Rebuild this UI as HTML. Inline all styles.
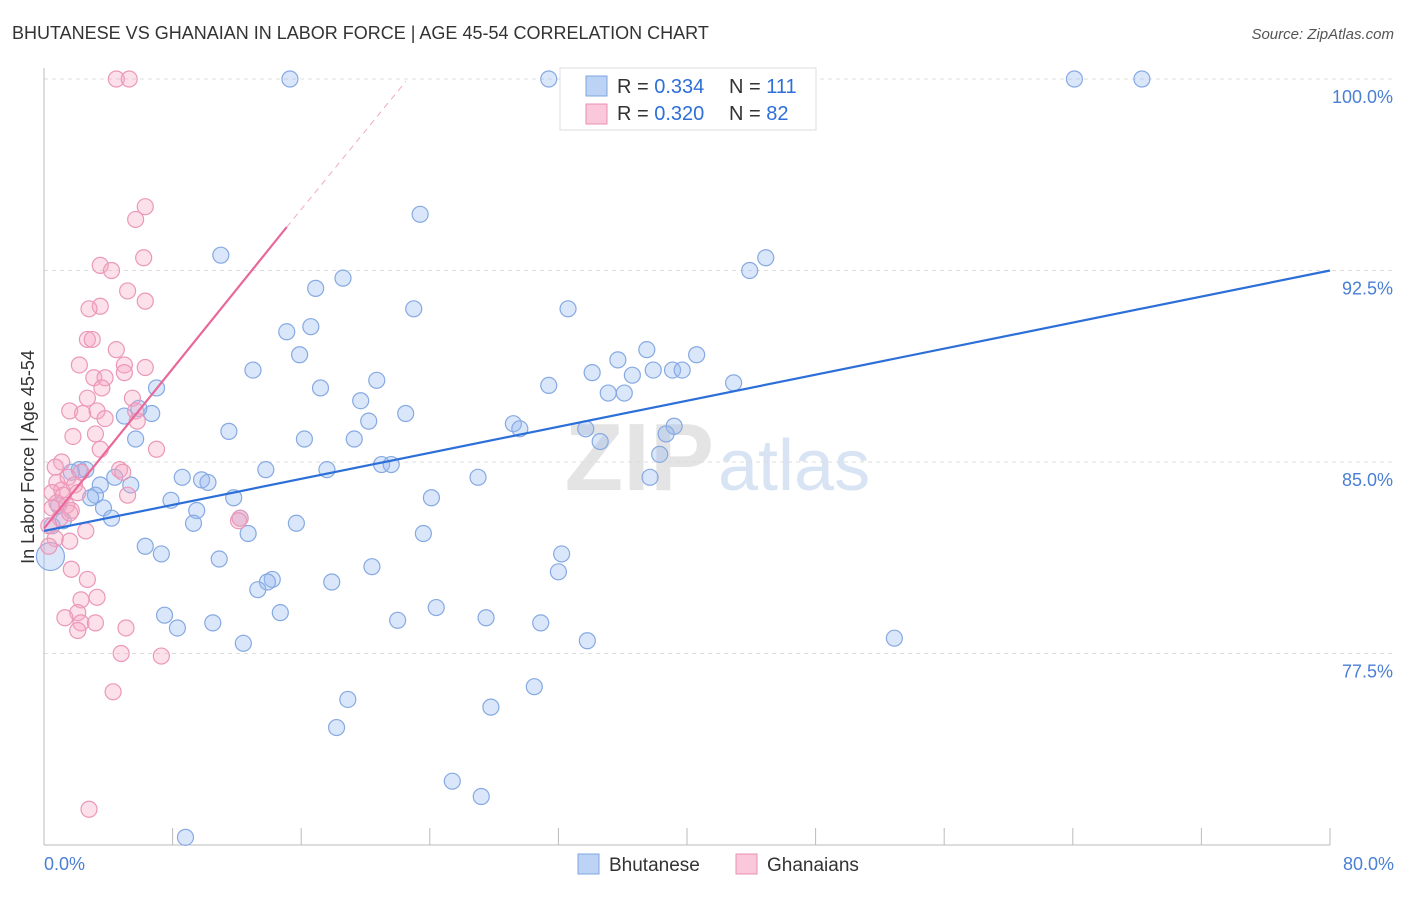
<!DOCTYPE html>
<html><head><meta charset="utf-8"><style>
body{margin:0;background:#fff;font-family:"Liberation Sans",sans-serif;}
svg text{font-family:"Liberation Sans",sans-serif;}
</style></head><body>
<svg id="chart" width="1406" height="892">
<text x="12" y="39" font-size="18" fill="#333">BHUTANESE VS GHANAIAN IN LABOR FORCE | AGE 45-54 CORRELATION CHART</text>
<text x="1394" y="39" font-size="15" fill="#555" font-style="italic" text-anchor="end">Source: ZipAtlas.com</text>
<text x="714" y="490" font-size="96" fill="#e4e4e4" text-anchor="end" font-family="Liberation Serif" font-weight="bold">ZIP</text>
<text x="718" y="490" font-size="72" fill="#d8e4f4">atlas</text>
<g id="grid"></g>
<g id="axes"></g>
<g id="pts"></g>
<g id="lines"></g>
<text transform="translate(34,457) rotate(-90)" font-size="18" fill="#333" text-anchor="middle">In Labor Force | Age 45-54</text>
<text x="44" y="870" font-size="18" fill="#4a7fd4">0.0%</text>
<text x="1394" y="870" font-size="18" fill="#4a7fd4" text-anchor="end">80.0%</text>
<g>
<rect x="560" y="68" width="256" height="62" fill="#fff" stroke="#ddd"/>
<rect x="586" y="76" width="21" height="20" fill="#bcd3f5" stroke="#7fa6e0"/>
<rect x="586" y="104" width="21" height="20" fill="#fac8da" stroke="#e890b0"/>
<text x="617" y="93" font-size="20" fill="#333">R = <tspan fill="#2d6fd8">0.334</tspan></text>
<text x="729" y="93" font-size="20" fill="#333">N = <tspan fill="#2d6fd8">111</tspan></text>
<text x="617" y="120" font-size="20" fill="#333">R = <tspan fill="#2d6fd8">0.320</tspan></text>
<text x="729" y="120" font-size="20" fill="#333">N = <tspan fill="#2d6fd8">82</tspan></text>
</g>
<g>
<rect x="578" y="854" width="21" height="20" fill="#bcd3f5" stroke="#7fa6e0"/>
<text x="609" y="871" font-size="19" fill="#333">Bhutanese</text>
<rect x="736" y="854" width="21" height="20" fill="#fac8da" stroke="#e890b0"/>
<text x="767" y="871" font-size="19" fill="#333">Ghanaians</text>
</g>
</svg>
<script>
const yTicks=[100,92.5,85,77.5];
const yTickLabels=["100.0%","92.5%","85.0%","77.5%"];
const xTicks=[0,8,16,24,32,40,48,56,64,72,80];
const blueX=[15.3,31.4,64.1,68.3,23.4,11.0,44.9,43.9,18.6,16.9,32.6,23.0,16.6,15.1,15.9,13.0,37.5,35.7,40.6,37.9,39.1,39.7,34.1,36.6,20.7,7.0,17.2,31.4,35.1,36.1,42.9,19.7,22.5,6.7,5.0,5.9,20.2,29.2,29.6,33.7,11.5,39.2,38.7,16.2,19.3,34.6,5.7,38.3,21.0,21.6,17.6,13.8,2.2,2.6,1.7,27.0,8.6,9.8,10.2,37.7,5.4,4.4,3.5,3.2,2.9,11.8,24.1,7.9,0.9,3.7,9.5,4.2,9.3,12.2,15.7,12.7,23.6,1.2,0.5,6.3,7.3,10.9,32.2,32.0,20.4,14.2,13.9,13.3,17.9,7.5,14.7,24.4,10.5,8.3,22.0,27.5,30.9,33.8,52.9,12.4,18.9,30.5,27.8,18.2,25.4,27.2,8.8,0.4];
const blueY=[100,100,100,100,94.7,93.1,93.0,92.5,92.2,91.8,91.0,91.0,90.3,90.1,89.2,88.6,89.4,89.0,89.2,88.6,88.6,88.6,88.5,88.4,88.2,87.9,87.9,88.0,87.7,87.7,88.1,87.4,86.9,86.9,86.8,87.1,86.6,86.5,86.3,86.3,86.2,86.4,86.1,85.9,85.9,85.8,85.9,85.3,84.9,84.9,84.7,84.7,84.7,84.7,84.6,84.4,84.4,84.3,84.2,84.4,84.1,84.4,84.1,83.7,83.6,83.6,83.6,83.5,83.3,83.2,83.1,82.8,82.6,82.8,82.6,82.2,82.2,82.7,82.5,81.7,81.4,81.2,81.4,80.7,80.9,80.4,80.3,80.0,80.3,79.0,79.1,79.3,78.7,78.5,78.8,78.9,78.7,78.0,78.1,77.9,75.7,76.2,75.4,74.6,72.5,71.9,70.3,81.3];
const blueR=blueX.map((v,i)=>i===blueX.length-1?14:8);
const pinkX=[4.5,5.3,6.3,5.7,6.2,3.5,4.2,5.2,6.3,3.5,2.8,2.7,3.0,4.5,2.2,5.0,6.3,3.1,3.8,5.0,3.6,2.7,5.5,5.7,1.6,3.3,2.4,3.8,5.8,1.8,3.2,7.0,3.5,1.1,0.7,2.3,4.7,4.9,0.8,1.5,1.1,1.9,0.5,1.2,2.1,0.8,5.2,1.4,0.5,1.7,1.0,1.6,12.2,12.1,0.3,2.6,0.7,1.6,0.3,2.7,1.7,3.3,2.3,2.1,1.3,2.3,2.1,3.2,5.1,4.8,7.3,4.3,2.8];
const pinkY=[100,100,95.0,94.5,93.0,92.7,92.5,91.7,91.3,91.1,91.0,89.8,89.8,89.4,88.8,88.8,88.7,88.3,88.3,88.5,87.9,87.5,87.5,87.0,87.0,87.0,86.9,86.7,86.6,86.0,86.1,85.5,85.5,85.0,84.8,84.6,84.7,84.6,84.2,84.4,83.9,84.1,83.8,83.7,83.8,83.4,83.7,83.3,83.2,83.1,82.8,83.0,82.8,82.7,82.5,82.3,82.0,81.9,81.7,80.4,80.8,79.7,79.6,79.1,78.9,78.7,78.4,78.7,78.5,77.5,77.4,76.0,71.4];
const blueTrend=[[0,82.3],[80,92.5]];
const pinkTrend=[[0,82.4],[15.1,94.2]];
const pinkTrendExt=[[15.1,94.2],[22.5,99.9]];
const X0=44,X1=1330,Y0=79,Y1=845,XMIN=0,XMAX=80,YMIN=70,YMAX=100;
const sx=v=>X0+(v-XMIN)/(XMAX-XMIN)*(X1-X0);
const sy=v=>Y0+(YMAX-v)/(YMAX-YMIN)*(Y1-Y0);
const NS="http://www.w3.org/2000/svg";
function mk(tag,attrs,parent){const e=document.createElementNS(NS,tag);for(const k in attrs)e.setAttribute(k,attrs[k]);parent.appendChild(e);return e;}
const grid=document.getElementById('grid'),axes=document.getElementById('axes'),pts=document.getElementById('pts'),lines=document.getElementById('lines');
yTicks.forEach((t,i)=>{
 const l=mk('line',{x1:X0,x2:1394,y1:sy(t),y2:sy(t),stroke:'#ddd','stroke-dasharray':'4,4'},grid);
 
 
 const tx=mk('text',{x:1393,y:sy(t)+24,'font-size':18,fill:'#4a7fd4','text-anchor':'end'},grid);
 tx.textContent=yTickLabels[i];
 
 
});
const ax=mk('line',{x1:X0,x2:X1,y1:Y1,y2:Y1,stroke:'#bbb'},axes);


const ay=mk('line',{x1:X0,x2:X0,y1:68,y2:Y1,stroke:'#bbb'},axes);


xTicks.forEach(t=>{
 const l=mk('line',{x1:sx(t),x2:sx(t),y1:828,y2:Y1,stroke:'#bbb'},axes);
 
 
});
blueX.forEach((v,i)=>{
 const c=mk('circle',{cx:sx(v),cy:sy(blueY[i]),r:blueR[i],fill:'rgba(150,185,240,0.35)',stroke:'#86a9e2','stroke-width':1.2},pts);
 
 
});
pinkX.forEach((v,i)=>{
 const c=mk('circle',{cx:sx(v),cy:sy(pinkY[i]),r:8,fill:'rgba(245,165,195,0.35)',stroke:'#eb98b8','stroke-width':1.2},pts);
 
 
});
const bl=mk('line',{x1:sx(blueTrend[0][0]),y1:sy(blueTrend[0][1]),x2:sx(blueTrend[1][0]),y2:sy(blueTrend[1][1]),stroke:'#2d6fd8','stroke-width':2.2},lines);


const pl=mk('line',{x1:sx(pinkTrend[0][0]),y1:sy(pinkTrend[0][1]),x2:sx(pinkTrend[1][0]),y2:sy(pinkTrend[1][1]),stroke:'#e8689a','stroke-width':2.2},lines);


const pe=mk('line',{x1:sx(pinkTrendExt[0][0]),y1:sy(pinkTrendExt[0][1]),x2:sx(pinkTrendExt[1][0]),y2:sy(pinkTrendExt[1][1]),stroke:'#f0a8c2','stroke-width':1,'stroke-dasharray':'6,5'},lines);


</script>
</body></html>
